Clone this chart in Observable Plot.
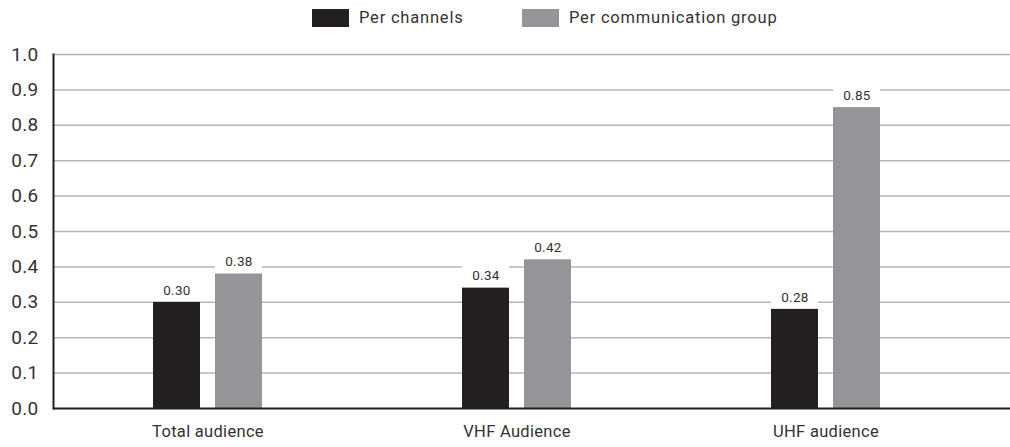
<!DOCTYPE html>
<html>
<head>
<meta charset="utf-8">
<script src="https://cdn.jsdelivr.net/npm/d3@7"></script>
<script src="https://cdn.jsdelivr.net/npm/@observablehq/plot@0.6"></script>
<style>
  body { margin: 0; background: #fff; font-family: Roboto, sans-serif; color: #333; }
  #legend { position: relative; height: 40px; width: 1010px; }
  .item { position: absolute; top: 9px; display: flex; align-items: center; font-size: 16.5px; letter-spacing: 0.8px; line-height: 18px; }
  .swatch { width: 37px; height: 18px; margin-right: 10px; }
  #chart svg { display: block; }
  #chart svg text { letter-spacing: 0.3px; }
</style>
</head>
<body>
<div id="legend"></div>
<div id="chart"></div>
<script>
// Audience categories and the two series of values per category
const categories = ["Total audience", "VHF Audience", "UHF audience"];
const seriesNames = ["Per channels", "Per communication group"];
const perChannels = [0.30, 0.34, 0.28];
const perGroup = [0.38, 0.42, 0.85];
const yTicks = [0, 0.1, 0.2, 0.3, 0.4, 0.5, 0.6, 0.7, 0.8, 0.9, 1.0];
const colors = ["#231f20", "#939598"];

const rows = categories.flatMap((c, i) => [
  {category: c, series: seriesNames[0], value: perChannels[i]},
  {category: c, series: seriesNames[1], value: perGroup[i]}
]);
const channelRows = rows.filter(d => d.series === seriesNames[0]);
const groupRows = rows.filter(d => d.series === seriesNames[1]);

// Legend
const legend = document.getElementById("legend");
const legendLeft = [312, 522];
seriesNames.forEach((name, i) => {
  const item = document.createElement("div");
  item.className = "item";
  item.style.left = legendLeft[i] + "px";
  item.innerHTML = `<span class="swatch" style="background:${colors[i]}"></span><span>${name}</span>`;
  legend.appendChild(item);
});

// Each category band holds the pair of bars; each bar takes one side of the band
const pairInset = 62;
const labelShift = 31;

const chart = Plot.plot({
  width: 1010,
  height: 407,
  marginLeft: 53,
  marginRight: 0,
  marginTop: 14,
  marginBottom: 39,
  style: {fontFamily: "Roboto, sans-serif", color: "#333", background: "#fff"},
  x: {domain: categories, range: [53.5, 980.5], paddingInner: 0.647, paddingOuter: 0.3235, label: null},
  y: {domain: [0, 1], label: null},
  marks: [
    Plot.ruleY(yTicks.filter(t => t > 0), {stroke: "#b5b5b5", strokeWidth: 1.5}),
    // white boxes behind the value labels
    Plot.barY(channelRows, {x: "category", y1: "value", y2: "value", insetTop: -22, insetRight: pairInset, fill: "#fff"}),
    Plot.barY(groupRows, {x: "category", y1: "value", y2: "value", insetTop: -22, insetLeft: pairInset, fill: "#fff"}),
    Plot.barY(channelRows, {x: "category", y: "value", fill: colors[0], insetRight: pairInset}),
    Plot.barY(groupRows, {x: "category", y: "value", fill: colors[1], insetLeft: pairInset}),
    Plot.text(channelRows, {x: "category", y: "value", text: d => d.value.toFixed(2), dx: -labelShift, dy: -12, fontSize: 13.5, fill: "#333"}),
    Plot.text(groupRows, {x: "category", y: "value", text: d => d.value.toFixed(2), dx: labelShift, dy: -12, fontSize: 13.5, fill: "#333"}),
    Plot.ruleY([0], {stroke: "#231f20", strokeWidth: 2}),
    Plot.frame({anchor: "left", stroke: "#231f20", strokeWidth: 2}),
    Plot.axisY({ticks: yTicks, tickSize: 0, tickPadding: 15, tickFormat: d => d.toFixed(1), fontSize: 19, fill: "#333", label: null}),
    Plot.axisX({tickSize: 0, tickPadding: 17, fontSize: 16.5, fill: "#333", label: null})
  ]
});
document.getElementById("chart").appendChild(chart);
</script>
</body>
</html>
